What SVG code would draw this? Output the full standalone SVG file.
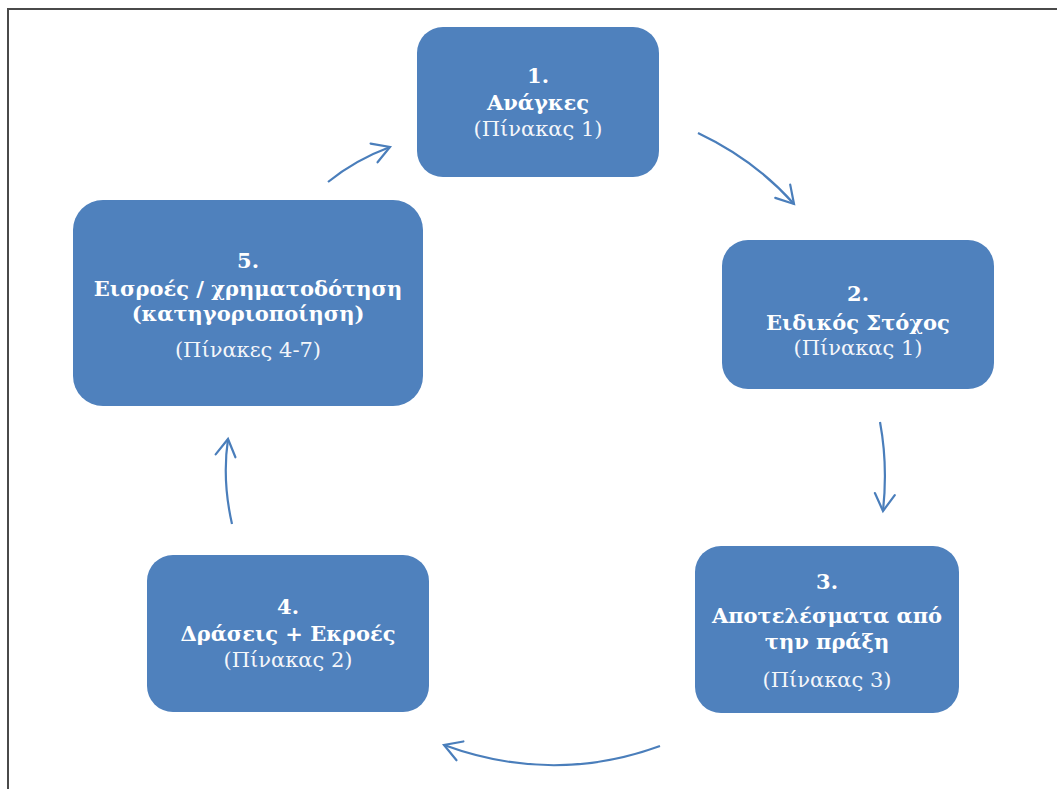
<svg xmlns="http://www.w3.org/2000/svg" width="1057" height="789" viewBox="0 0 1057 789">
<defs>
<style>
.box{fill:#4F81BD;}
.t{font-family:"DejaVu Serif","Liberation Serif",serif;font-size:21px;fill:#ffffff;text-anchor:middle;}
.b{font-weight:bold;}
.n{font-weight:normal;fill:#f4f6fa;}
.c{fill:none;stroke:#4A7EBB;stroke-width:2.2;marker-end:url(#ah);}
.frame{stroke:#4a4a4a;stroke-width:2;fill:none;}
</style>
<marker id="ah" markerUnits="userSpaceOnUse" viewBox="-22 -14 26 28" refX="0" refY="0" markerWidth="26" markerHeight="28" orient="auto">
<path d="M-17,-10 L0,0 L-17,10" fill="none" stroke="#4A7EBB" stroke-width="2.2" stroke-linecap="round" stroke-linejoin="miter"/>
</marker>
</defs>
<rect width="1057" height="789" fill="#ffffff"/>
<path class="frame" d="M8,789 L8,9 L1057,9"/>
<g id="connectors">
<path class="c" d="M328,182 Q355,160 390,147"/>
<path class="c" d="M698,133 Q755,160 794,204"/>
<path class="c" d="M880,422 Q888,465 883,511"/>
<path class="c" d="M660,746 Q553,785 444,745"/>
<path class="c" d="M232,524 Q222,480 228,439"/>
</g>
<g id="node1">
<rect class="box" x="417" y="27" width="242" height="150" rx="26"/>
<text class="t b" x="538" y="83">1.</text>
<text class="t b" x="538" y="110">Ανάγκες</text>
<text class="t n" x="538" y="136">(Πίνακας 1)</text>
</g>
<g id="node2">
<rect class="box" x="722" y="240" width="272" height="149" rx="26"/>
<text class="t b" x="858" y="301">2.</text>
<text class="t b" x="858" y="330">Ειδικός Στόχος</text>
<text class="t n" x="858" y="355">(Πίνακας 1)</text>
</g>
<g id="node3">
<rect class="box" x="695" y="546" width="264" height="167" rx="26"/>
<text class="t b" x="827" y="589">3.</text>
<text class="t b" x="827" y="623">Αποτελέσματα από</text>
<text class="t b" x="827" y="649">την πράξη</text>
<text class="t n" x="827" y="687">(Πίνακας 3)</text>
</g>
<g id="node4">
<rect class="box" x="147" y="555" width="282" height="157" rx="26"/>
<text class="t b" x="288" y="614">4.</text>
<text class="t b" x="288" y="641">Δράσεις + Εκροές</text>
<text class="t n" x="288" y="667">(Πίνακας 2)</text>
</g>
<g id="node5">
<rect class="box" x="73" y="200" width="350" height="206" rx="30"/>
<text class="t b" x="248" y="268">5.</text>
<text class="t b" x="248" y="296">Εισροές / χρηματοδότηση</text>
<text class="t b" x="248" y="321">(κατηγοριοποίηση)</text>
<text class="t n" x="248" y="357">(Πίνακες 4-7)</text>
</g>
</svg>
